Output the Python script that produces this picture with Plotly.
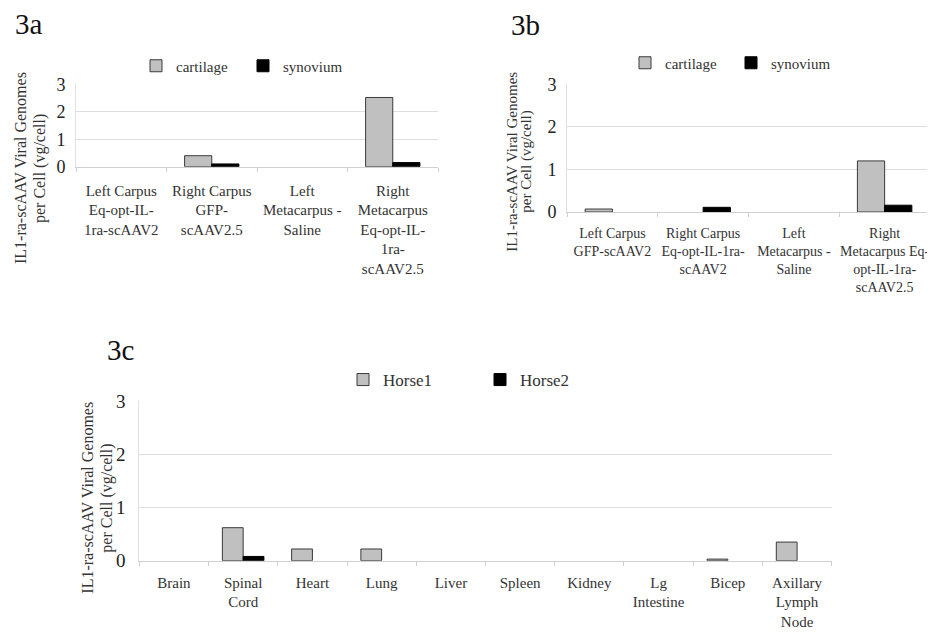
import plotly.graph_objects as go

# page body has an 8px margin; the figure is sized to fill the rest of the window
OFF = 8
W, H = 935 - OFF, 633 - OFF

# ---------------- data ----------------
cats_a = ["Left Carpus Eq-opt-IL-1ra-scAAV2", "Right Carpus GFP-scAAV2.5",
          "Left Metacarpus - Saline", "Right Metacarpus Eq-opt-IL-1ra-scAAV2.5"]
labels_a = ["Left Carpus<br>Eq-opt-IL-<br>1ra-scAAV2", "Right Carpus<br>GFP-<br>scAAV2.5",
            "Left<br>Metacarpus -<br>Saline", "Right<br>Metacarpus<br>Eq-opt-IL-<br>1ra-<br>scAAV2.5"]
cartilage_a = [0, 0.40, 0, 2.52]
synovium_a = [0, 0.10, 0, 0.15]

cats_b = ["Left Carpus GFP-scAAV2", "Right Carpus Eq-opt-IL-1ra-scAAV2",
          "Left Metacarpus - Saline", "Right Metacarpus Eq-opt-IL-1ra-scAAV2.5"]
labels_b = ["Left Carpus<br>GFP-scAAV2", "Right Carpus<br>Eq-opt-IL-1ra-<br>scAAV2",
            "Left<br>Metacarpus -<br>Saline", "Right<br>Metacarpus Eq-<br>opt-IL-1ra-<br>scAAV2.5"]
cartilage_b = [0.07, 0, 0, 1.20]
synovium_b = [0, 0.11, 0, 0.16]

cats_c = ["Brain", "Spinal Cord", "Heart", "Lung", "Liver", "Spleen", "Kidney",
          "Lg Intestine", "Bicep", "Axillary Lymph Node"]
labels_c = ["Brain", "Spinal<br>Cord", "Heart", "Lung", "Liver", "Spleen", "Kidney",
            "Lg<br>Intestine", "Bicep", "Axillary<br>Lymph<br>Node"]
horse1_c = [0, 0.62, 0.22, 0.22, 0, 0, 0, 0, 0.03, 0.35]
horse2_c = [0, 0.08, 0, 0, 0, 0, 0, 0, 0, 0]

y_ticks = [0, 1, 2, 3]
ytitle1 = "IL1-ra-scAAV Viral Genomes"
ytitle2 = "per Cell (vg/cell)"

SERIF = "Liberation Serif"
GRAY = "#c0c0c0"
EDGE = "#3a3a3a"
TXT = "#333333"
GRID = "#dedede"


def px(x):
    return (x - OFF) / W


def py(y):
    return 1 - (y - OFF) / H


def nz(v):
    return [None if a == 0 else a for a in v]


fig = go.Figure()

# 3a
fig.add_trace(go.Bar(x=cats_a, y=nz(cartilage_a), name="cartilage", xaxis="x", yaxis="y",
                     marker=dict(color=GRAY, line=dict(color=EDGE, width=1)), legend="legend"))
fig.add_trace(go.Bar(x=cats_a, y=nz(synovium_a), name="synovium", xaxis="x", yaxis="y",
                     marker=dict(color="#000000", line=dict(color="#000000", width=1)), legend="legend"))
# 3b
fig.add_trace(go.Bar(x=cats_b, y=nz(cartilage_b), name="cartilage", xaxis="x2", yaxis="y2",
                     marker=dict(color=GRAY, line=dict(color=EDGE, width=1)), legend="legend2"))
fig.add_trace(go.Bar(x=cats_b, y=nz(synovium_b), name="synovium", xaxis="x2", yaxis="y2",
                     marker=dict(color="#000000", line=dict(color="#000000", width=1)), legend="legend2"))
# 3c
fig.add_trace(go.Bar(x=cats_c, y=nz(horse1_c), name="Horse1", xaxis="x3", yaxis="y3",
                     marker=dict(color=GRAY, line=dict(color=EDGE, width=1)), legend="legend3"))
fig.add_trace(go.Bar(x=cats_c, y=nz(horse2_c), name="Horse2", xaxis="x3", yaxis="y3",
                     marker=dict(color="#000000", line=dict(color="#000000", width=1)), legend="legend3"))


def xax(dom, anchor, cats, labels, size, standoff):
    return dict(domain=dom, anchor=anchor, type="category", categoryorder="array",
                categoryarray=cats, tickvals=cats, ticktext=labels, automargin=False,
                tickson="boundaries", ticks="outside", ticklen=4, tickcolor="#d0d0d0",
                showline=True, linecolor="#d0d0d0", linewidth=1, showgrid=False,
                tickfont=dict(family=SERIF, size=size, color=TXT),
                ticklabelstandoff=standoff, tickangle=0, fixedrange=True)


def yax(dom, anchor, size, standoff):
    return dict(domain=dom, anchor=anchor, range=[0, 3], tickvals=y_ticks, automargin=False,
                showgrid=True, gridcolor=GRID, gridwidth=1, zeroline=False,
                showline=True, linecolor="#e0e0e0", linewidth=1, ticks="",
                tickfont=dict(family=SERIF, size=size, color="#222222"),
                ticklabelstandoff=standoff, fixedrange=True)


fig.update_layout(
    width=W, height=H, margin=dict(l=0, r=0, t=0, b=0, autoexpand=False),
    paper_bgcolor="white", plot_bgcolor="white",
    barmode="group", bargap=0.4, bargroupgap=0,
    font=dict(family=SERIF, color=TXT),
    xaxis=xax([px(76), px(438)], "y", cats_a, labels_a, 15, 10),
    yaxis=yax([py(166.7), py(84.3)], "x", 18, 6),
    xaxis2=xax([px(567), px(930)], "y2", cats_b, labels_b, 14, 8),
    yaxis2=yax([py(212), py(84.3)], "x2", 18, 6),
    xaxis3=xax([px(139.3), px(831.7)], "y3", cats_c, labels_c, 15, 8),
    yaxis3=yax([py(560.7), py(401)], "x3", 19, 9),
    legend=dict(orientation="h", x=px(136), y=py(66), xanchor="left", yanchor="middle",
                font=dict(family=SERIF, size=15, color=TXT), bgcolor="rgba(0,0,0,0)",
                entrywidth=62, entrywidthmode="pixels", itemclick=False, itemdoubleclick=False),
    legend2=dict(orientation="h", x=px(625), y=py(63), xanchor="left", yanchor="middle",
                 font=dict(family=SERIF, size=15, color=TXT), bgcolor="rgba(0,0,0,0)",
                 entrywidth=61, entrywidthmode="pixels", itemclick=False, itemdoubleclick=False),
    legend3=dict(orientation="h", x=px(343), y=py(380), xanchor="left", yanchor="middle",
                 font=dict(family=SERIF, size=17, color=TXT), bgcolor="rgba(0,0,0,0)",
                 entrywidth=92, entrywidthmode="pixels", itemclick=False, itemdoubleclick=False),
)

ann = []
# panel labels
for txt, x, y in [("3a", 29, 24), ("3b", 525, 25), ("3c", 120, 350)]:
    ann.append(dict(text=txt, x=px(x), y=py(y), xref="paper", yref="paper", showarrow=False,
                    xanchor="center", yanchor="middle",
                    font=dict(family=SERIF, size=29, color="#111111")))
# y-axis titles (two lines each)
for (x1, x2, yc, size) in [(20, 40, 168, 16), (511.7, 526.7, 162, 15), (86.7, 106.7, 498, 16)]:
    ann.append(dict(text=ytitle1, x=px(x1), y=py(yc), xref="paper", yref="paper", showarrow=False,
                    textangle=-90, xanchor="center", yanchor="middle",
                    font=dict(family=SERIF, size=size, color=TXT)))
    ann.append(dict(text=ytitle2, x=px(x2), y=py(yc), xref="paper", yref="paper", showarrow=False,
                    textangle=-90, xanchor="center", yanchor="middle",
                    font=dict(family=SERIF, size=size, color=TXT)))
fig.update_layout(annotations=ann)

fig.write_html("out.html")
